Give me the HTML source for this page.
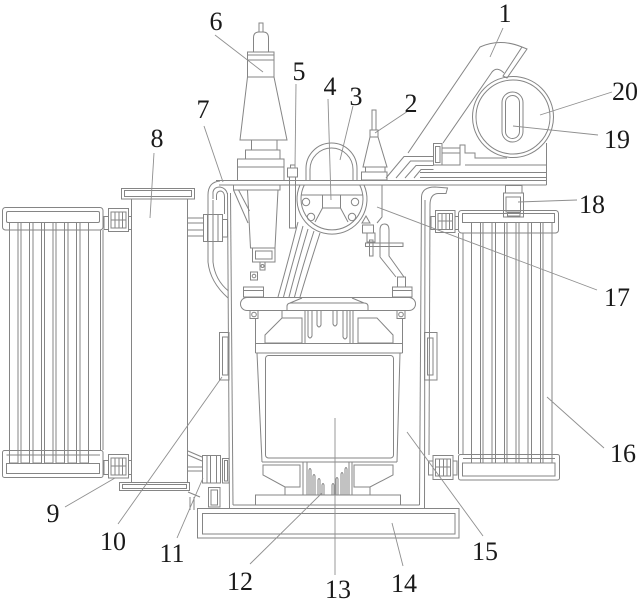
<!DOCTYPE html>
<html><head><meta charset="utf-8"><style>
html,body{margin:0;padding:0;background:#fff;}
svg{display:block;}
text{font-family:"Liberation Serif",serif;font-size:26px;fill:#1a1a1a;text-anchor:middle;}
</style></head><body>
<svg width="640" height="600" viewBox="0 0 640 600" xmlns="http://www.w3.org/2000/svg">
<g fill="none" stroke="#858585" stroke-width="1">
<!-- LEFT RADIATOR -->
<rect x="2.5" y="207.5" width="100.5" height="22.5" rx="3"/>
<rect x="6.5" y="211.5" width="93" height="11" rx="1.5"/>
<rect x="9.5" y="222.5" width="8.5" height="240.5"/>
<rect x="21" y="222.5" width="8.5" height="240.5"/>
<rect x="33" y="222.5" width="8.5" height="240.5"/>
<rect x="44.5" y="222.5" width="8.5" height="240.5"/>
<rect x="56" y="222.5" width="8.5" height="240.5"/>
<rect x="68" y="222.5" width="8.5" height="240.5"/>
<rect x="80" y="222.5" width="8.5" height="240.5"/>
<line x1="100.5" y1="230" x2="100.5" y2="450"/>
<line x1="103" y1="230" x2="103" y2="450"/>
<rect x="2.5" y="450.5" width="100.5" height="27" rx="2"/>
<rect x="6.5" y="463.5" width="93" height="10"/>
<line x1="6.5" y1="455" x2="100" y2="455"/>
<!-- left valves 9 -->
<rect x="108.5" y="208.5" width="20" height="23"/>
<rect x="111" y="212" width="15" height="16"/>
<path d="M115,212 V228 M119,212 V228 M122.5,212 V228 M111,220 H126"/>
<rect x="104" y="216.5" width="4.5" height="13"/>
<rect x="128.5" y="216.5" width="3" height="13"/>
<rect x="108.5" y="454.5" width="20" height="23.5"/>
<rect x="111" y="458" width="15" height="17"/>
<path d="M115,458 V475 M119,458 V475 M122.5,458 V475 M111,466 H126"/>
<rect x="104" y="460.5" width="4.5" height="14"/>
<rect x="128.5" y="460.5" width="3" height="14"/>
<!-- CONSERVATOR 8 -->
<rect x="121.5" y="188.5" width="73" height="10.5"/>
<rect x="124.5" y="190.5" width="67" height="6"/>
<line x1="131.5" y1="199" x2="131.5" y2="482"/>
<line x1="187.5" y1="199" x2="187.5" y2="482"/>
<rect x="119.5" y="482.5" width="70" height="8"/>
<rect x="122.5" y="484.5" width="64" height="4"/>
<path d="M187.5,218 H203.5 M187.5,223 H203.5 M187.5,230 H203.5 M187.5,236 H203.5"/>
<rect x="203.5" y="214.5" width="19" height="27"/>
<path d="M207.5,214.5 V241.5 M213,214.5 V241.5 M218,214.5 V241.5"/>
<rect x="222.5" y="219.5" width="5" height="17.5"/>
<!-- bottom connection 11 -->
<path d="M188,451 L202,457 M188,455 L202,461 M188,467 H202 M188,471 H202 M188,492 L200,497 M190,497 V510 M194,497 V510"/>
<rect x="202.5" y="455.5" width="18" height="27.5"/>
<path d="M207,455.5 V483 M210.5,455.5 V483 M216.5,455.5 V483"/>
<rect x="222.5" y="458.5" width="6.5" height="24.5"/>
<rect x="224.5" y="460.5" width="3" height="20.5"/>
<rect x="208.5" y="487.5" width="11.5" height="19.5"/>
<rect x="211" y="490" width="6.5" height="15"/>
<!-- TANK -->
<rect x="197.5" y="508.5" width="261.5" height="29.5"/>
<rect x="202.5" y="513.5" width="252.5" height="20.5"/>
<line x1="227.5" y1="193" x2="229.5" y2="508"/>
<line x1="230.5" y1="193" x2="233" y2="505"/>
<line x1="233" y1="505" x2="419.5" y2="505"/>
<line x1="421.5" y1="197" x2="419.5" y2="505"/>
<line x1="425" y1="200" x2="424.5" y2="508"/>
<line x1="430" y1="205" x2="429" y2="455"/>
<path d="M421.5,197 Q422,187 435,187 L447.5,188 L446,193.5 L438,193.5 Q430,194 430,205"/>
<!-- left pipes 7 -->
<path d="M220,181 Q208,182 208,195 L208,262 Q210,282 228,298"/>
<path d="M213,200 L213,262 Q215,280 228.5,291"/>
<path d="M213,199 L213,192 Q214,187 220,187 Q226,188 227.5,194"/>
<path d="M216.5,200 L216.5,195 Q217,191 221,191 Q224.5,192 224.5,197 L224.5,214"/>
<!-- wall brackets -->
<rect x="219.5" y="332.5" width="9.5" height="47.5"/>
<rect x="222.5" y="337" width="5.5" height="38"/>
<rect x="424.5" y="332.5" width="12.5" height="47.5"/>
<rect x="427.5" y="338" width="5.5" height="37"/>
<!-- LID -->
<line x1="216" y1="180.5" x2="546.5" y2="180.5"/>
<line x1="219" y1="185" x2="546.5" y2="185"/>
<line x1="546.5" y1="143" x2="546.5" y2="185"/>
<!-- platform right -->
<line x1="420" y1="172.5" x2="546.5" y2="172.5"/>
<line x1="420" y1="177.5" x2="546.5" y2="177.5"/>
<line x1="465" y1="165" x2="546.5" y2="165"/>
<rect x="433.5" y="143.5" width="8.5" height="21.5"/>
<rect x="435.5" y="146.5" width="4.5" height="16"/>
<rect x="442" y="148" width="18" height="17"/>
<line x1="442" y1="153" x2="460" y2="153"/>
<path d="M460,148 V145 H465 V153 H475 V158 H507"/>
<path d="M386,178 L404,156.5 H433.5"/>
<path d="M396,178 L410.5,161 H433.5"/>
<path d="M405,178 L416,165.5 H433.5"/>
<path d="M414,178 L421,169.5 H433.5"/>
<!-- PART 1 -->
<path d="M408,153 L480,47 Q500,38 522,47"/>
<polygon points="522,47 527,49 507,78 503,76"/>
<path d="M443,143 L492,72 Q497,66 504,73"/>
<!-- 20 / 19 -->
<circle cx="513" cy="117" r="40.5"/>
<circle cx="513" cy="117" r="37"/>
<rect x="502" y="92" width="21" height="50" rx="10.5"/>
<rect x="505.5" y="95.5" width="14" height="43" rx="7"/>
<!-- 18 -->
<rect x="505.5" y="185.5" width="16.5" height="7.5"/>
<rect x="503.5" y="193" width="20" height="24"/>
<rect x="506" y="197" width="14.5" height="15"/>
<rect x="507.5" y="213" width="12.5" height="3"/>
<!-- RIGHT RADIATOR -->
<rect x="458.5" y="210.5" width="100" height="22.5" rx="3"/>
<rect x="462.5" y="213.5" width="92" height="9"/>
<rect x="471.5" y="222.5" width="9" height="240.5"/>
<rect x="483" y="222.5" width="9" height="240.5"/>
<rect x="495.5" y="222.5" width="9" height="240.5"/>
<rect x="507" y="222.5" width="9" height="240.5"/>
<rect x="519" y="222.5" width="9" height="240.5"/>
<rect x="531.5" y="222.5" width="9" height="240.5"/>
<rect x="543" y="222.5" width="9" height="240.5"/>
<line x1="458.5" y1="233" x2="458.5" y2="454"/>
<line x1="463" y1="233" x2="463" y2="454"/>
<rect x="458.5" y="454.5" width="101" height="25.5" rx="2"/>
<rect x="462.5" y="463" width="92.5" height="13"/>
<line x1="463" y1="458.5" x2="555" y2="458.5"/>
<!-- right valves -->
<rect x="435.5" y="210.5" width="19.5" height="22"/>
<rect x="438" y="213.5" width="14.5" height="16"/>
<path d="M442,213.5 V229.5 M446,213.5 V229.5 M449.5,213.5 V229.5 M438,221 H452.5"/>
<rect x="431" y="216.5" width="4.5" height="13"/>
<rect x="455" y="216.5" width="3.5" height="13"/>
<rect x="433" y="455.5" width="20" height="24"/>
<rect x="435.5" y="459" width="15" height="17"/>
<path d="M439.5,459 V476 M443.5,459 V476 M447,459 V476 M435.5,467 H450.5"/>
<rect x="428.5" y="461" width="4.5" height="14"/>
<rect x="453" y="461" width="4" height="14"/>
<!-- BUSHING 6 -->
<rect x="259" y="23" width="4" height="9"/>
<path d="M253.5,52 L253.5,38 Q253.5,32 259,32 L263,32 Q268.5,32 268.5,38 L268.5,52"/>
<rect x="247.5" y="52" width="26.5" height="8"/>
<line x1="247.5" y1="55" x2="274" y2="55"/>
<rect x="247.5" y="60" width="26.5" height="17"/>
<polygon points="247.5,77 274,77 287,140 240,140"/>
<rect x="251.5" y="140" width="25.5" height="10"/>
<rect x="245.5" y="150" width="34.5" height="9"/>
<rect x="237.5" y="159" width="46.5" height="21.5"/>
<line x1="237.5" y1="167" x2="284" y2="167"/>
<rect x="233.5" y="185" width="46.5" height="5"/>
<polygon points="247.5,190 278,190 275,248 250.5,248"/>
<rect x="252.5" y="248" width="22.5" height="14"/>
<rect x="255.5" y="251" width="16.5" height="8"/>
<rect x="260" y="262" width="5" height="8"/>
<circle cx="262.5" cy="266" r="1.5"/>
<path d="M233.5,190 L248,223 M238.5,190 L249.5,211"/>
<!-- rod 5 -->
<rect x="290.5" y="165" width="4.5" height="3"/>
<rect x="287.5" y="168" width="10" height="9"/>
<rect x="289.5" y="177" width="6" height="51"/>
<!-- PART 2 -->
<rect x="372" y="110" width="4" height="20"/>
<rect x="370" y="130" width="8" height="7"/>
<polygon points="370,137 378,137 387,167 363,167"/>
<rect x="365.5" y="167" width="19.5" height="5"/>
<rect x="361.5" y="172" width="25.5" height="8"/>
<!-- PART 3 arch -->
<path d="M306,180 L306,168.5 A25.5,25.5 0 0 1 357,168.5 L357,180"/>
<path d="M310,180 L310,169.5 A21.5,21.5 0 0 1 353,169.5 L353,180"/>
<!-- PART 4 -->
<path d="M300,185 A35,35 0 1 0 364,185"/>
<path d="M304.3,185 A31,31 0 1 0 359.7,185"/>
<line x1="301" y1="195" x2="363" y2="195"/>
<rect x="322.5" y="195" width="18" height="13"/>
<path d="M322.5,208 L315,222 M340.5,208 L348,222"/>
<circle cx="306" cy="202" r="3.7"/>
<circle cx="355" cy="202" r="3.7"/>
<circle cx="311" cy="217" r="3.7"/>
<circle cx="352" cy="217" r="3.7"/>
<!-- leads -->
<path d="M298,222 Q288,262 278,297"/>
<path d="M303,226 Q292,265 283.5,297"/>
<path d="M308,229 Q297,266 289,297"/>
<path d="M314,231 Q302,268 294.5,297"/>
<path d="M320,233 Q308,270 300,297"/>
<!-- tap changer 17 -->
<path d="M382,185 V217 L377,223"/>
<polygon points="362,223 366,216 370,223"/>
<rect x="362.5" y="225" width="11" height="8"/>
<rect x="367" y="233" width="8" height="9"/>
<rect x="365.5" y="243" width="37.5" height="3.5"/>
<rect x="369.5" y="240" width="3.5" height="16"/>
<path d="M380,257 L380,230 Q380,224 384.5,224 Q389,224 389,230 L389,256 L404,277"/>
<path d="M380,257 L396,277"/>
<rect x="397.5" y="277" width="8" height="10"/>
<rect x="392.5" y="287" width="19.5" height="10"/>
<line x1="392.5" y1="290.5" x2="412" y2="290.5"/>
<!-- left terminal -->
<rect x="250.5" y="272" width="7" height="8"/>
<circle cx="254" cy="276" r="1.8"/>
<rect x="243.5" y="287" width="20" height="10"/>
<line x1="243.5" y1="290.5" x2="263.5" y2="290.5"/>
<!-- crossbar -->
<rect x="240.5" y="297.5" width="175" height="13" rx="6.5"/>
<path d="M287,311 L287,306.5 Q287,303 291,303 L364,303 Q368,303 368,306.5 L368,311"/>
<path d="M290,303 L302,298 M352,298 L364,303"/>
<rect x="250" y="310.5" width="8" height="8"/>
<circle cx="254" cy="314.5" r="2.3"/>
<rect x="397" y="310.5" width="8" height="8"/>
<circle cx="401" cy="314.5" r="2.3"/>
<!-- core upper -->
<line x1="255.5" y1="318" x2="255.5" y2="353"/>
<line x1="402.5" y1="318" x2="402.5" y2="353"/>
<path d="M282,311 V318"/>
<polygon points="265,335 282,318 302,318 302,343 265,343"/>
<polygon points="358,318 377,318 393,335 393,343 358,343"/>
<path d="M305,311 V343 M350,311 V343 M353,311 V343"/>
<path d="M308,311 L308,336 Q310,340 312,336 L312,311"/>
<path d="M317,311 L317,325 Q319,329 321,325 L321,311"/>
<path d="M333,311 L333,324 Q335,328 337,324 L337,311"/>
<path d="M343,311 L343,337 Q345,341 347,337 L347,311"/>
<line x1="255.5" y1="343.5" x2="402.5" y2="343.5"/>
<line x1="255.5" y1="353" x2="402.5" y2="353"/>
<!-- coil 13 -->
<path d="M257,353 L262,462 M400,353 L397,462"/>
<rect x="265.5" y="355.5" width="128" height="102.5" rx="3"/>
<line x1="262" y1="462" x2="397" y2="462"/>
<polygon points="263,465 300,465 300,487 285,487 263,475"/>
<polygon points="354,465 393,465 393,475 370,487 354,487"/>
<path d="M303,462 V495 M352,462 V495 M285,487 V495 M370,487 V495 M307,462 V495 M349,462 V495"/>
<path d="M309,495 V470 Q310,467 311,470 V495"/>
<path d="M313,495 V476 Q314,473 315,476 V495"/>
<path d="M318,495 V480 Q319,477 320,480 V495"/>
<path d="M322,495 V485 Q323,482 324,485 V495"/>
<path d="M332,495 V485 Q333,482 334,485 V495"/>
<path d="M336,495 V479 Q337,476 338,479 V495"/>
<path d="M341,495 V474 Q342,471 343,474 V495"/>
<path d="M345,495 V469 Q346,466 347,469 V495"/>
<rect x="255.5" y="495" width="145" height="10"/>
</g>
<!-- LEADER LINES -->
<g stroke="#8f8f8f" stroke-width="0.9" fill="none">
<line x1="503" y1="28" x2="490" y2="57"/>
<line x1="408" y1="111" x2="375" y2="133"/>
<line x1="353" y1="106" x2="340" y2="160"/>
<line x1="328" y1="99" x2="331" y2="200"/>
<line x1="296" y1="84" x2="295" y2="168"/>
<line x1="215" y1="35" x2="263" y2="72"/>
<line x1="204" y1="126" x2="223" y2="182"/>
<line x1="154" y1="153" x2="150" y2="218"/>
<line x1="65" y1="507" x2="115" y2="478"/>
<line x1="118" y1="524" x2="222" y2="377"/>
<line x1="177" y1="538" x2="203" y2="478"/>
<line x1="250" y1="564" x2="322" y2="493"/>
<line x1="335" y1="575" x2="335" y2="418"/>
<line x1="403" y1="566" x2="392" y2="523"/>
<line x1="483" y1="536" x2="407" y2="432"/>
<line x1="604" y1="448" x2="547" y2="397"/>
<line x1="597" y1="290" x2="377" y2="207"/>
<line x1="577" y1="200" x2="518" y2="202"/>
<line x1="598" y1="135" x2="513" y2="126"/>
<line x1="612" y1="92" x2="540" y2="115"/>
</g>
<!-- LABELS -->
<text x="505" y="22">1</text>
<text x="411" y="112">2</text>
<text x="356" y="105">3</text>
<text x="330" y="95">4</text>
<text x="299" y="80">5</text>
<text x="216" y="30">6</text>
<text x="203" y="118">7</text>
<text x="157" y="147">8</text>
<text x="53" y="522">9</text>
<text x="113" y="550">10</text>
<text x="172" y="562">11</text>
<text x="240" y="590">12</text>
<text x="338" y="598">13</text>
<text x="404" y="592">14</text>
<text x="485" y="560">15</text>
<text x="623" y="462">16</text>
<text x="617" y="306">17</text>
<text x="592" y="213">18</text>
<text x="617" y="148">19</text>
<text x="625" y="100">20</text>
</svg>
</body></html>
